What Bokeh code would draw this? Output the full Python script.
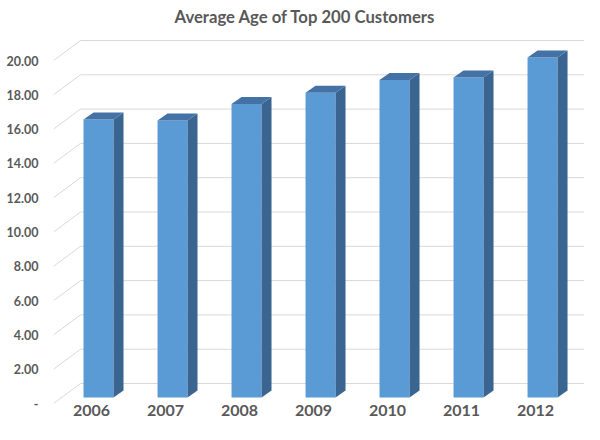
import numpy as np
from bokeh.plotting import figure
from bokeh.models import FixedTicker, Range1d
from bokeh.embed import file_html
from bokeh.resources import INLINE

# ---- data ----
years = ["2006", "2007", "2008", "2009", "2010", "2011", "2012"]
ages = [16.21, 16.15, 17.12, 17.77, 18.52, 18.66, 19.83]
y_ticks = [0, 2, 4, 6, 8, 10, 12, 14, 16, 18, 20]
y_tick_labels = ["-", "2.00", "4.00", "6.00", "8.00", "10.00", "12.00",
                 "14.00", "16.00", "18.00", "20.00"]
title_text = "Average Age of Top 200 Customers"

# ---- 3D styling (offsets in data units) ----
X0, X1 = -0.5135, 6.662
Y0, Y1 = 0.0, 21.75
WALL_DX, WALL_DY = 0.365, 1.166      # back wall offset
BAR_FX, BAR_FY = 0.095, 0.35         # bar front-face offset from front plane
BAR_DX, BAR_DY = 0.135, 0.408        # bar depth
HALF_W = 0.2027

FRONT = "#5B9BD5"
TOP = "#4472A6"
SIDE = "#3A6591"
GRID = "#D9D9D9"
TEXT = "#595959"

p = figure(width=584, height=424, x_range=Range1d(X0, X1), y_range=Range1d(Y0, Y1),
           output_backend="svg", toolbar_location=None,
           min_border_left=53, min_border_right=0, min_border_top=30, min_border_bottom=21)

p.title.text = title_text
p.title.text_font = "Lato"
p.title.text_font_size = "16.7px"
p.title.text_font_style = "bold"
p.title.text_color = TEXT
p.title.align = "left"
p.title.offset = 121
p.title.standoff = 8

p.xgrid.visible = False
p.ygrid.visible = False
p.outline_line_color = None
p.background_fill_color = "white"
p.border_fill_color = "white"

# gridlines in perspective
t = np.array(y_ticks, dtype=float)
xs_g = [[X0, X0 + WALL_DX, X1 + 1] for _ in t]
ys_g = [[v, v + WALL_DY, v + WALL_DY] for v in t]
p.multi_line(xs_g, ys_g, line_color=GRID, line_width=1)

# bars
xc = np.arange(len(years), dtype=float)
v = np.array(ages)
xl = xc + BAR_FX - HALF_W
xr = xc + BAR_FX + HALF_W
yb = np.full_like(v, BAR_FY)
yt = v + BAR_FY

side_xs = [[a, a + BAR_DX, a + BAR_DX, a] for a in xr]
side_ys = [[b, b + BAR_DY, c + BAR_DY, c] for b, c in zip(yb, yt)]
top_xs = [[a, b, b + BAR_DX, a + BAR_DX] for a, b in zip(xl, xr)]
top_ys = [[c, c, c + BAR_DY, c + BAR_DY] for c in yt]

p.quad(left=xl, right=xr, bottom=yb, top=yt, fill_color=FRONT, line_color=None)
p.patches(side_xs, side_ys, fill_color=SIDE, line_color=None)
p.patches(top_xs, top_ys, fill_color=TOP, line_color=None)

# axes
p.yaxis.ticker = FixedTicker(ticks=y_ticks)
p.yaxis.major_label_overrides = {tk: lb for tk, lb in zip(y_ticks, y_tick_labels)}
p.xaxis.ticker = FixedTicker(ticks=list(range(len(years))))
p.xaxis.major_label_overrides = {i: y for i, y in enumerate(years)}
for ax in (p.xaxis, p.yaxis):
    ax.axis_line_color = None
    ax.major_tick_line_color = None
    ax.minor_tick_line_color = None
    ax.major_tick_out = 0
    ax.major_tick_in = 0
    ax.minor_tick_out = 0
    ax.minor_tick_in = 0
    ax.major_label_text_font = "Lato"
    ax.major_label_text_font_style = "bold"
    ax.major_label_text_color = TEXT
p.yaxis.major_label_text_font_size = "12.5px"
p.yaxis.major_label_standoff = 15
p.xaxis.major_label_text_font_size = "16px"
p.xaxis.major_label_standoff = 1

open("out.html", "w").write(file_html(p, INLINE))
